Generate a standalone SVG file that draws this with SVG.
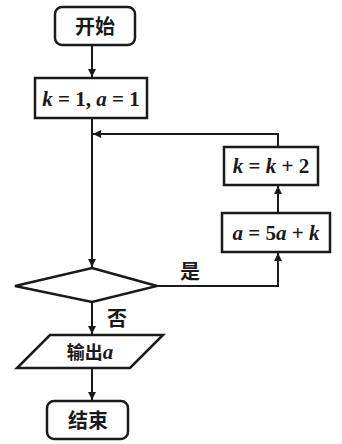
<svg xmlns="http://www.w3.org/2000/svg" width="342" height="444" viewBox="0 0 342 444">
<style>
.box{fill:#fff;stroke:#1a1a1a;stroke-width:2.5}
.ln{fill:none;stroke:#1a1a1a;stroke-width:2}
.t{font-family:"Liberation Serif","Noto Sans CJK SC",serif;font-size:21px;font-weight:bold;fill:#1a1a1a;text-anchor:middle}
.cj{font-family:"Noto Sans CJK SC",sans-serif;font-size:20px;font-weight:bold;fill:#1a1a1a;text-anchor:middle}
</style>
<defs>
<marker id="ah" viewBox="0 0 10 10" refX="10" refY="5" markerWidth="4" markerHeight="4" orient="auto"><path d="M0,0L10,5L0,10z" fill="#1a1a1a"/></marker>
</defs>
<rect width="342" height="444" fill="#fff"/>
<g id="connectors">
<line class="ln" x1="92" y1="45" x2="92" y2="77" marker-end="url(#ah)"/>
<line class="ln" x1="92" y1="118" x2="92" y2="267" marker-end="url(#ah)"/>
<polyline class="ln" points="278,147 278,134 93,134" marker-end="url(#ah)"/>
<line class="ln" x1="278" y1="213" x2="278" y2="186" marker-end="url(#ah)"/>
<polyline class="ln" points="157,286 278,286 278,253" marker-end="url(#ah)"/>
<line class="ln" x1="92" y1="302" x2="92" y2="334" marker-end="url(#ah)"/>
<line class="ln" x1="92" y1="368" x2="92" y2="400" marker-end="url(#ah)"/>
<text class="cj" x="190" y="279" font-size="18">是</text>
<text class="cj" x="117" y="326" font-size="18">否</text>
</g>
<g id="start">
<rect class="box" x="55" y="7" width="80" height="38" rx="7"/>
<text class="cj" x="95" y="34">开始</text>
</g>
<g id="init">
<rect class="box" x="35" y="78" width="112" height="40"/>
<text class="t" x="91" y="106"><tspan font-style="italic">k</tspan> = 1, <tspan font-style="italic">a</tspan> = 1</text>
</g>
<g id="kstep">
<rect class="box" x="224" y="147" width="94" height="38"/>
<text class="t" x="271" y="173"><tspan font-style="italic">k</tspan> = <tspan font-style="italic">k</tspan> + 2</text>
</g>
<g id="astep">
<rect class="box" x="222" y="213" width="108" height="39"/>
<text class="t" x="276" y="240"><tspan font-style="italic">a</tspan> = 5<tspan font-style="italic">a</tspan> + <tspan font-style="italic">k</tspan></text>
</g>
<g id="decision">
<polygon class="box" points="92,268 157,286 92,302 15,286"/>
</g>
<g id="output">
<polygon class="box" points="50,335 163,335 130,368 17,368"/>
<text class="t" x="90" y="359"><tspan font-family="Noto Sans CJK SC, sans-serif" font-size="18">输出</tspan><tspan font-style="italic">a</tspan></text>
</g>
<g id="end">
<rect class="box" x="47" y="401" width="81" height="38" rx="7"/>
<text class="cj" x="88" y="428">结束</text>
</g>
</svg>
